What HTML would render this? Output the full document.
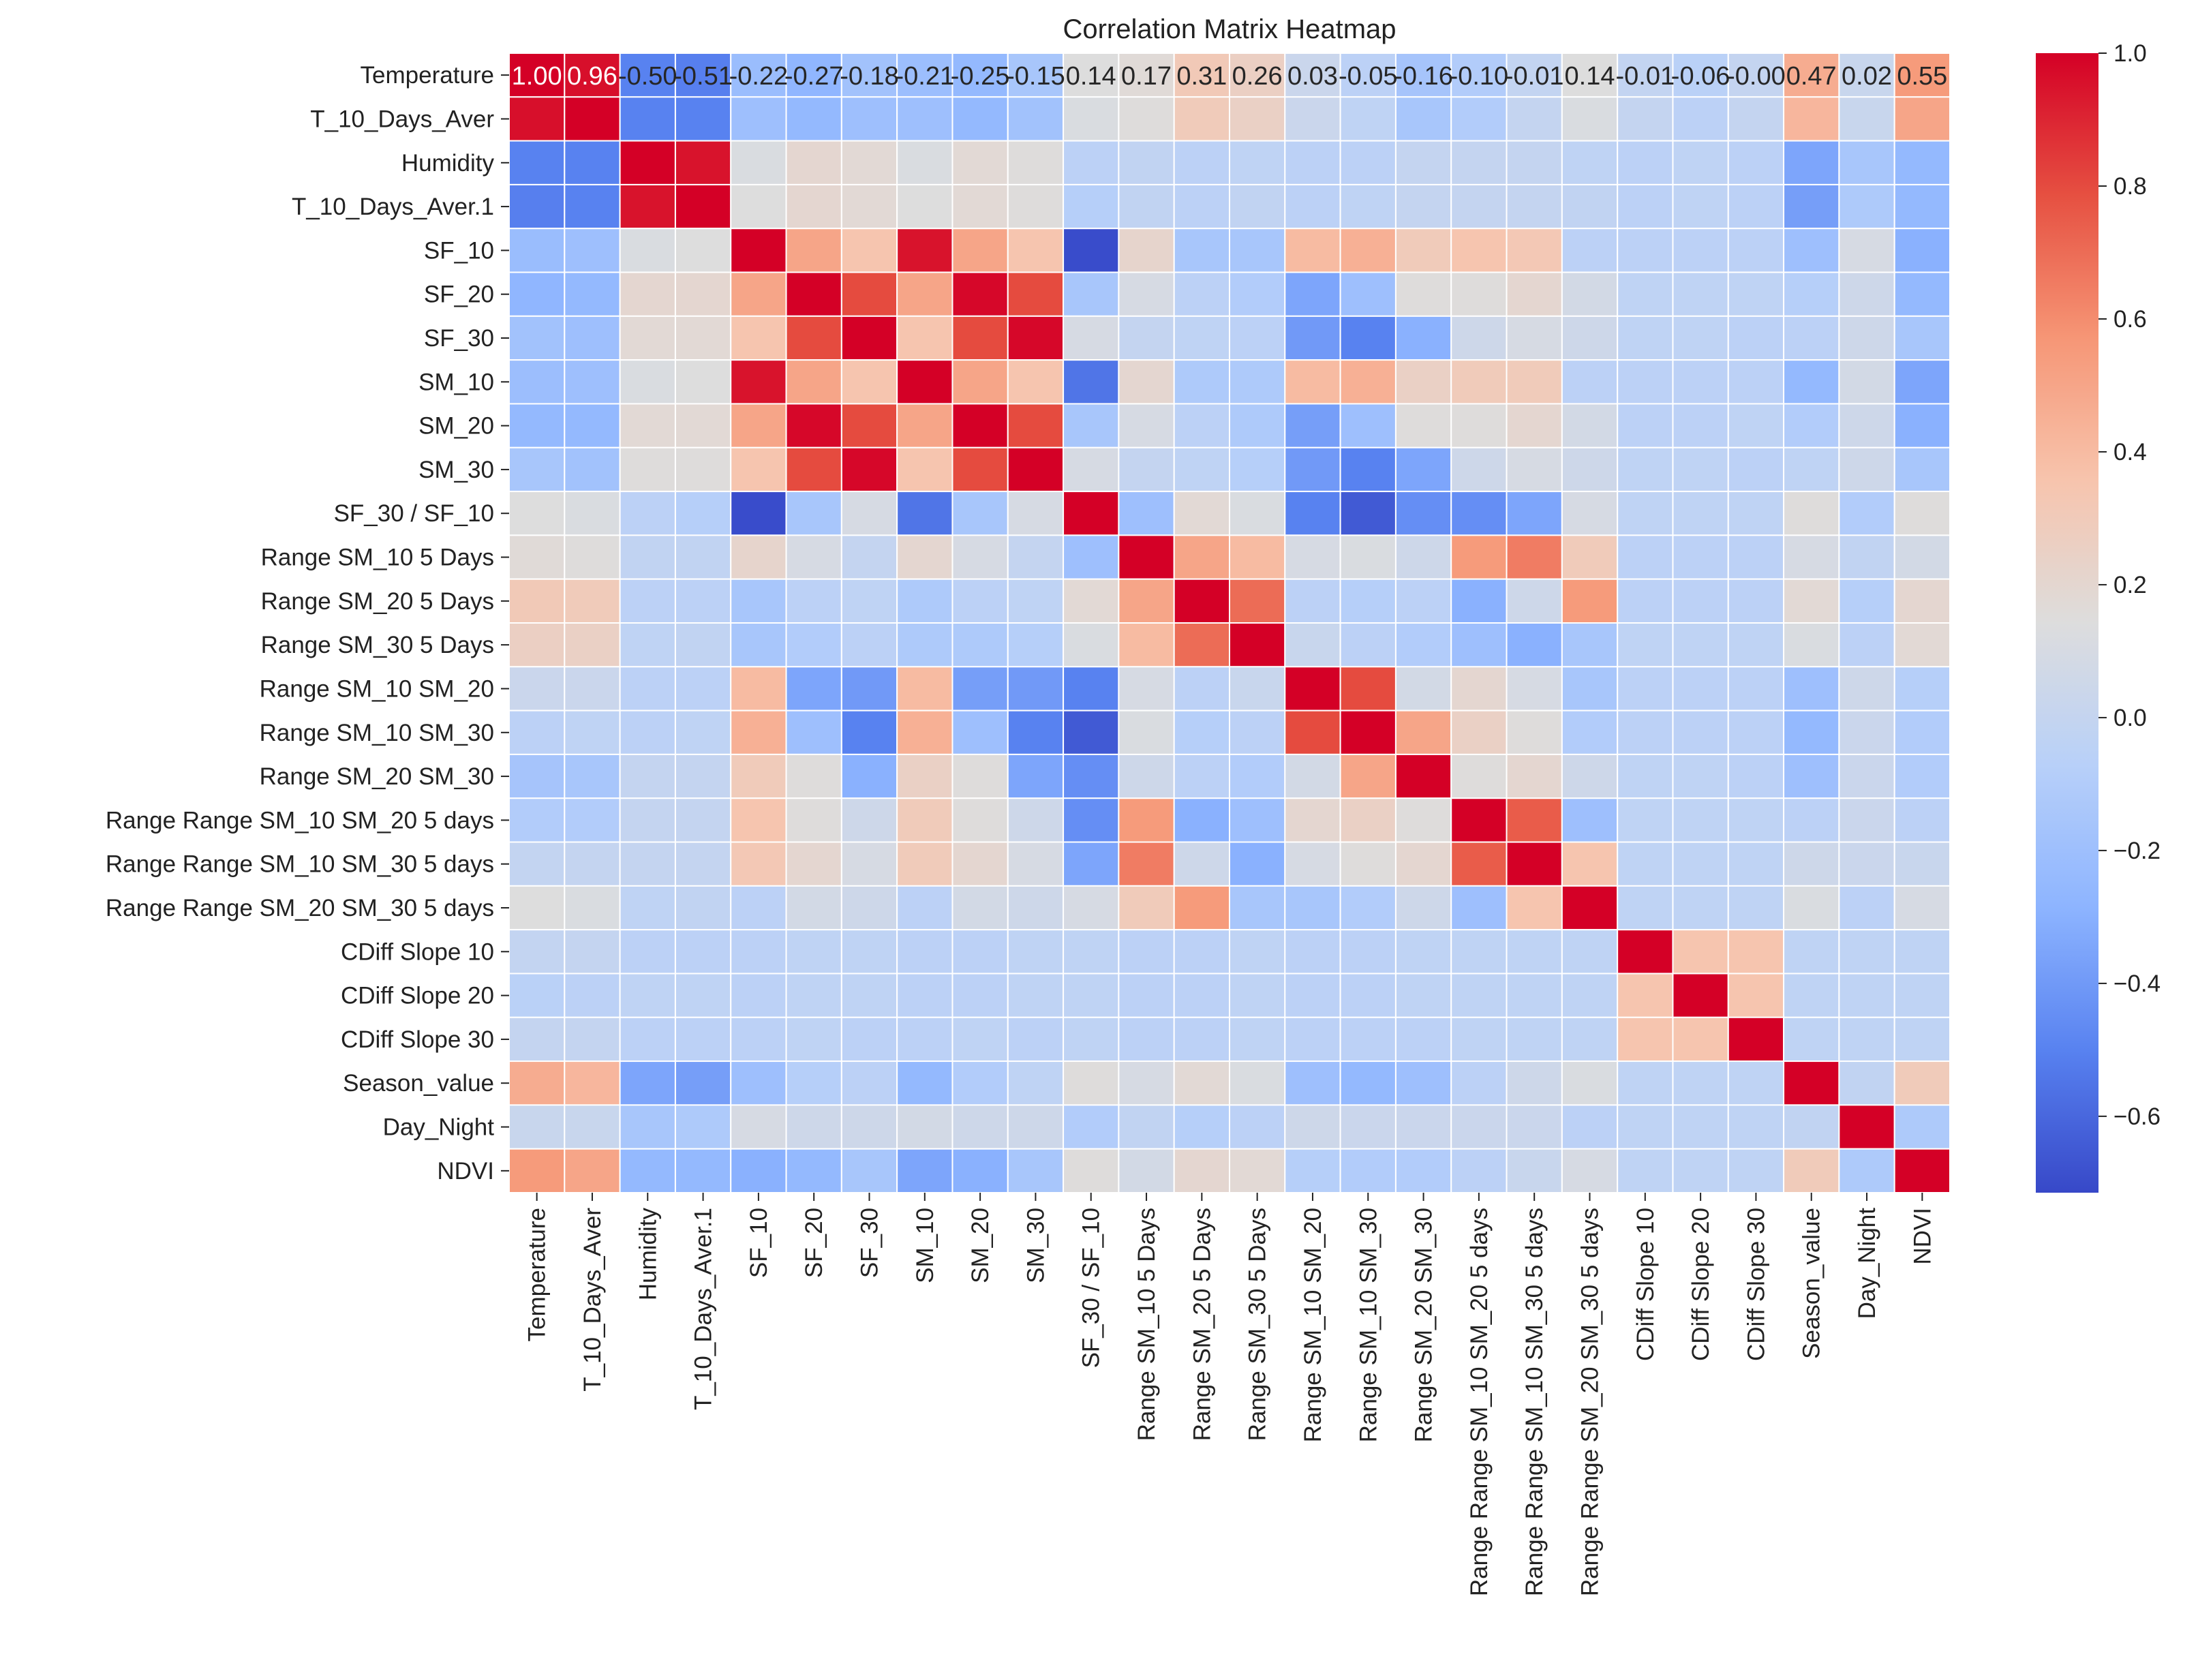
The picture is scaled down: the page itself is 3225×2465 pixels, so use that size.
<!DOCTYPE html>
<html><head><meta charset="utf-8"><style>
html,body{margin:0;padding:0;background:#fff;}
svg{display:block;font-family:"Liberation Sans","DejaVu Sans",sans-serif;}
</style></head><body>
<svg id="chart" width="3225" height="2465" viewBox="0 0 3225 2465" xmlns="http://www.w3.org/2000/svg">
<text x="1804" y="56" font-size="40" text-anchor="middle" fill="#222">Correlation Matrix Heatmap</text>
<g id="cells"></g>
<g id="ylabels"></g>
<g id="xlabels"></g>
<g id="annots"></g>
<g id="cbar"></g>
</svg>
<script>
const labels = ["Temperature","T_10_Days_Aver","Humidity","T_10_Days_Aver.1","SF_10","SF_20","SF_30","SM_10","SM_20","SM_30","SF_30 / SF_10","Range SM_10 5 Days","Range SM_20 5 Days","Range SM_30 5 Days","Range SM_10 SM_20","Range SM_10 SM_30","Range SM_20 SM_30","Range Range SM_10 SM_20 5 days","Range Range SM_10 SM_30 5 days","Range Range SM_20 SM_30 5 days","CDiff Slope 10","CDiff Slope 20","CDiff Slope 30","Season_value","Day_Night","NDVI"];
const lowerTri = [
[1],
[0.96,1],
[-0.50,-0.50,1],
[-0.51,-0.50,0.95,1],
[-0.22,-0.20,0.12,0.14,1],
[-0.27,-0.25,0.20,0.20,0.50,1],
[-0.18,-0.20,0.18,0.18,0.35,0.80,1],
[-0.21,-0.20,0.12,0.14,0.95,0.50,0.35,1],
[-0.25,-0.25,0.18,0.18,0.50,0.98,0.80,0.50,1],
[-0.15,-0.18,0.15,0.15,0.35,0.80,0.98,0.35,0.80,1],
[0.14,0.12,-0.05,-0.08,-0.70,-0.15,0.10,-0.55,-0.15,0.10,1],
[0.17,0.15,-0.02,-0.02,0.22,0.10,0.00,0.20,0.10,0.00,-0.20,1],
[0.31,0.30,-0.05,-0.05,-0.15,-0.05,-0.03,-0.12,-0.05,-0.03,0.18,0.50,1],
[0.26,0.25,-0.03,-0.02,-0.15,-0.10,-0.05,-0.12,-0.12,-0.08,0.12,0.40,0.70,1],
[0.03,0.03,-0.05,-0.05,0.40,-0.35,-0.40,0.40,-0.38,-0.40,-0.50,0.10,-0.05,0.02,1],
[-0.05,-0.03,-0.05,-0.03,0.45,-0.20,-0.50,0.45,-0.20,-0.50,-0.65,0.12,-0.08,-0.05,0.80,1],
[-0.16,-0.15,0.00,0.00,0.30,0.15,-0.30,0.25,0.15,-0.35,-0.45,0.05,-0.05,-0.10,0.08,0.50,1],
[-0.10,-0.10,0.00,0.00,0.35,0.15,0.05,0.30,0.15,0.05,-0.45,0.55,-0.30,-0.20,0.20,0.25,0.15,1],
[-0.01,0.00,0.00,0.00,0.32,0.20,0.10,0.30,0.20,0.10,-0.35,0.65,0.05,-0.30,0.10,0.15,0.20,0.75,1],
[0.14,0.12,-0.03,-0.02,-0.05,0.08,0.05,-0.05,0.08,0.05,0.10,0.30,0.55,-0.15,-0.15,-0.10,0.05,-0.20,0.35,1],
[-0.01,0.00,-0.05,-0.05,-0.05,-0.03,-0.03,-0.05,-0.05,-0.03,-0.03,-0.05,-0.05,-0.03,-0.05,-0.05,-0.03,-0.03,-0.03,-0.03,1],
[-0.06,-0.05,-0.03,-0.03,-0.05,-0.03,-0.03,-0.05,-0.05,-0.03,-0.03,-0.05,-0.05,-0.03,-0.05,-0.05,-0.03,-0.03,-0.03,-0.03,0.35,1],
[-0.00,0.00,-0.05,-0.05,-0.05,-0.03,-0.05,-0.05,-0.03,-0.05,-0.03,-0.05,-0.05,-0.03,-0.05,-0.05,-0.05,-0.03,-0.03,-0.03,0.35,0.35,1],
[0.47,0.42,-0.35,-0.38,-0.20,-0.08,-0.05,-0.25,-0.10,-0.03,0.15,0.10,0.18,0.12,-0.20,-0.25,-0.20,-0.05,0.05,0.12,-0.03,-0.03,-0.03,1],
[0.02,0.02,-0.15,-0.12,0.10,0.05,0.05,0.08,0.05,0.05,-0.10,-0.02,-0.08,-0.05,0.05,0.03,0.03,0.03,0.03,-0.05,-0.03,-0.03,-0.03,-0.02,1],
[0.55,0.50,-0.25,-0.25,-0.30,-0.25,-0.15,-0.35,-0.30,-0.15,0.15,0.08,0.20,0.18,-0.08,-0.10,-0.10,-0.05,0.02,0.10,-0.03,-0.03,-0.03,0.30,-0.12,1]
];
const annotRow = ["1.00","0.96","-0.50","-0.51","-0.22","-0.27","-0.18","-0.21","-0.25","-0.15","0.14","0.17","0.31","0.26","0.03","-0.05","-0.16","-0.10","-0.01","0.14","-0.01","-0.06","-0.00","0.47","0.02","0.55"];
const cbarTicks = [1.0,0.8,0.6,0.4,0.2,0.0,-0.2,-0.4,-0.6];
const vmin = -0.715, vmax = 1.0;

const NS="http://www.w3.org/2000/svg";
const L=747,R=2861,T=78,B=1750,n=labels.length;
const cw=(R-L)/n, ch=(B-T)/n;
const stops=[[55,72,200],[88,130,240],[141,180,255],[184,208,249],[221,221,221],[247,196,173],[246,150,118],[230,80,65],[212,0,38]];
function cmap(v){let t=(v-vmin)/(vmax-vmin);t=Math.max(0,Math.min(1,t));const p=t*8,i=Math.min(7,Math.floor(p)),f=p-i;const a=stops[i],b=stops[i+1];return [0,1,2].map(k=>Math.round(a[k]+(b[k]-a[k])*f));}
function rgb(c){return `rgb(${c[0]},${c[1]},${c[2]})`;}
function val(i,j){return i>=j?lowerTri[i][j]:lowerTri[j][i];}
function xs(j){return L+j*cw;} function ys(i){return T+i*ch;}
function mk(tag,attrs,parent){const e=document.createElementNS(NS,tag);for(const k in attrs)e.setAttribute(k,attrs[k]);parent.appendChild(e);return e;}
const cells=document.getElementById('cells');
for(let i=0;i<n;i++)for(let j=0;j<n;j++){
  const r=mk('rect',{x:xs(j),y:ys(i),width:cw,height:ch,fill:rgb(cmap(val(i,j))),stroke:'#fff','stroke-width':2},cells);
  
  
}
const an=document.getElementById('annots');
for(let j=0;j<n;j++){
  const c=cmap(val(0,j));const lum=(0.299*c[0]+0.587*c[1]+0.114*c[2])/255;
  const t=mk('text',{x:xs(j)+cw/2,y:ys(0)+ch/2+14,'font-size':38,'text-anchor':'middle',fill:lum<0.5?'#fff':'#262626'},an);
  t.textContent=annotRow[j];
  
  
}
const yl=document.getElementById('ylabels'),xl=document.getElementById('xlabels');
for(let i=0;i<n;i++){
  mk('line',{x1:L-12,x2:L,y1:ys(i)+ch/2,y2:ys(i)+ch/2,stroke:'#222','stroke-width':2},yl);
  const t=mk('text',{x:L-22,y:ys(i)+ch/2+12,'font-size':35,'text-anchor':'end',fill:'#222'},yl);
  t.textContent=labels[i];
  
  
  const x=xs(i)+cw/2;
  mk('line',{x1:x,x2:x,y1:B,y2:B+12,stroke:'#222','stroke-width':2},xl);
  const u=mk('text',{x:0,y:0,'font-size':35,'text-anchor':'end',fill:'#222',transform:`translate(${x+12},${B+22}) rotate(-90)`},xl);
  u.textContent=labels[i];
  
  
}
const cb=document.getElementById('cbar');
const CX=2987,CW=92;
const defs=mk('defs',{},cb);
const g=mk('linearGradient',{id:'cg',x1:0,y1:1,x2:0,y2:0},defs);
for(let k=0;k<=40;k++){const v=vmin+(vmax-vmin)*k/40;mk('stop',{offset:k/40,'stop-color':rgb(cmap(v))},g);}
mk('rect',{x:CX,y:T,width:CW,height:B-T,fill:'url(#cg)'},cb);
function cy(v){return T+(vmax-v)/(vmax-vmin)*(B-T);}
cbarTicks.forEach((v,k)=>{
  mk('line',{x1:CX+CW,x2:CX+CW+12,y1:cy(v),y2:cy(v),stroke:'#222','stroke-width':2},cb);
  const t=mk('text',{x:CX+CW+22,y:cy(v)+12,'font-size':35,fill:'#222'},cb);
  t.textContent=(v<0?'\u2212':'')+Math.abs(v).toFixed(1);
  
  
});
</script>
</body></html>
